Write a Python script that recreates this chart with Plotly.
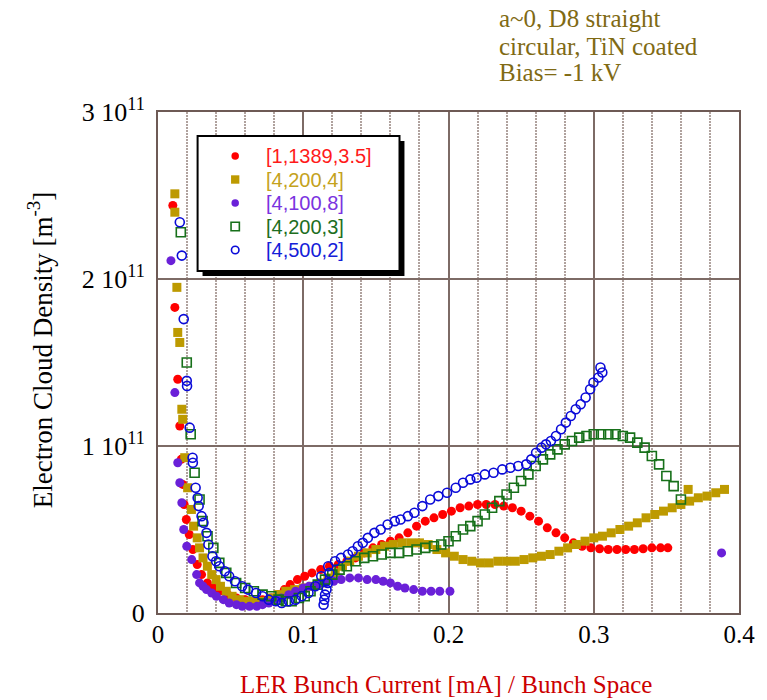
import numpy as np
import plotly.graph_objects as go

SCALE = 1e11

RED_X = [0.0102, 0.0116, 0.0136, 0.0150, 0.0160, 0.0170, 0.0180, 0.0195, 0.0215, 0.0240,
         0.0270, 0.0300, 0.0340, 0.0380, 0.0420, 0.0480, 0.0540, 0.0600, 0.0660, 0.0720,
         0.0780, 0.0830, 0.0870, 0.0910, 0.0960, 0.1010, 0.1060, 0.1120, 0.1180, 0.1240,
         0.1300, 0.1360, 0.1420, 0.1480, 0.1540, 0.1600, 0.1660, 0.1720, 0.1780, 0.1840,
         0.1900, 0.1960, 0.2020, 0.2080, 0.2140, 0.2200, 0.2260, 0.2320, 0.2380, 0.2440,
         0.2500, 0.2560, 0.2620, 0.2680, 0.2740, 0.2800, 0.2860, 0.2920, 0.2980, 0.3040,
         0.3100, 0.3160, 0.3220, 0.3280, 0.3340, 0.3400, 0.3460, 0.3510]
RED_Y = [2.44, 1.83, 1.40, 1.12, 0.92, 0.77, 0.65, 0.56, 0.47, 0.38,
         0.29, 0.23, 0.18, 0.15, 0.13, 0.11, 0.09, 0.08, 0.07, 0.08,
         0.09, 0.11, 0.14, 0.17, 0.20, 0.22, 0.24, 0.26, 0.28, 0.29,
         0.31, 0.33, 0.36, 0.39, 0.41, 0.43, 0.45, 0.48, 0.52, 0.55,
         0.57, 0.59, 0.61, 0.63, 0.64, 0.65, 0.65, 0.65, 0.64, 0.63,
         0.61, 0.58, 0.55, 0.51, 0.48, 0.45, 0.42, 0.40, 0.39, 0.385,
         0.38, 0.38, 0.38, 0.38, 0.385, 0.39, 0.39, 0.39]

GOLD_X = [0.0116, 0.0116, 0.0130, 0.0136, 0.0150, 0.0164, 0.0170, 0.0184, 0.0204, 0.0230,
          0.0245, 0.0270, 0.0286, 0.0310, 0.0340, 0.0370, 0.0400, 0.0430, 0.0470, 0.0510,
          0.0560, 0.0610, 0.0660, 0.0720, 0.0780, 0.0830, 0.0880, 0.0940, 0.1000, 0.1060,
          0.1120, 0.1170, 0.1220, 0.1270, 0.1320, 0.1380, 0.1440, 0.1500, 0.1560, 0.1620,
          0.1680, 0.1740, 0.1800, 0.1860, 0.1920, 0.1980, 0.2040, 0.2100, 0.2160, 0.2220,
          0.2280, 0.2340, 0.2400, 0.2460, 0.2520, 0.2580, 0.2640, 0.2700, 0.2760, 0.2820,
          0.2880, 0.2940, 0.3000, 0.3060, 0.3120, 0.3180, 0.3240, 0.3300, 0.3360, 0.3420,
          0.3480, 0.3540, 0.3600, 0.3660, 0.3720, 0.3780, 0.3840, 0.3900, 0.3650]
GOLD_Y = [2.51, 2.40, 1.95, 1.68, 1.62, 1.22, 1.16, 0.93, 0.75, 0.62,
          0.52, 0.45, 0.39, 0.33, 0.28, 0.23, 0.20, 0.16, 0.13, 0.10,
          0.08, 0.07, 0.07, 0.07, 0.09, 0.11, 0.13, 0.14, 0.15, 0.16,
          0.18, 0.21, 0.24, 0.28, 0.31, 0.34, 0.36, 0.38, 0.40, 0.41,
          0.42, 0.42, 0.42, 0.41, 0.38, 0.36, 0.34, 0.32, 0.31, 0.30,
          0.30, 0.31, 0.31, 0.31, 0.32, 0.33, 0.34, 0.35, 0.37, 0.39,
          0.41, 0.43, 0.45, 0.46, 0.48, 0.50, 0.52, 0.54, 0.57, 0.59,
          0.61, 0.63, 0.65, 0.67, 0.69, 0.70, 0.72, 0.74, 0.74]

PURPLE_X = [0.0089, 0.0116, 0.0136, 0.0150, 0.0164, 0.0177, 0.0198, 0.0232, 0.0266, 0.0286,
            0.0310, 0.0334, 0.0370, 0.0402, 0.0450, 0.0490, 0.0540, 0.0580, 0.0630, 0.0680,
            0.0720, 0.0763, 0.0810, 0.0850, 0.0900, 0.0947, 0.1000, 0.1040, 0.1100, 0.1153,
            0.1210, 0.1261, 0.1320, 0.1380, 0.1440, 0.1500, 0.1550, 0.1600, 0.1650, 0.1700,
            0.1760, 0.1820, 0.1880, 0.1940, 0.2010, 0.3880]
PURPLE_Y = [2.11, 1.32, 0.90, 0.78, 0.66, 0.50, 0.40, 0.32, 0.23, 0.18,
            0.16, 0.14, 0.12, 0.10, 0.08, 0.06, 0.05, 0.04, 0.04, 0.04,
            0.05, 0.06, 0.08, 0.09, 0.11, 0.13, 0.15, 0.16, 0.17, 0.18,
            0.19, 0.20, 0.21, 0.21, 0.20, 0.20, 0.19, 0.18, 0.16, 0.15,
            0.14, 0.13, 0.13, 0.13, 0.13, 0.36]

GREEN_X = [0.0157, 0.0198, 0.0225, 0.0252, 0.0286, 0.0307, 0.0341, 0.0381, 0.0422, 0.0470,
           0.0538, 0.0600, 0.0660, 0.0720, 0.0780, 0.0830, 0.0880, 0.0920, 0.0970, 0.1010,
           0.1050, 0.1100, 0.1150, 0.1200, 0.1250, 0.1300, 0.1360, 0.1420, 0.1480, 0.1540,
           0.1600, 0.1660, 0.1720, 0.1780, 0.1840, 0.1900, 0.1950, 0.2000, 0.2050, 0.2100,
           0.2150, 0.2200, 0.2250, 0.2300, 0.2350, 0.2400, 0.2450, 0.2500, 0.2550, 0.2600,
           0.2650, 0.2700, 0.2750, 0.2800, 0.2850, 0.2900, 0.2950, 0.3000, 0.3050, 0.3100,
           0.3150, 0.3200, 0.3250, 0.3300, 0.3350, 0.3400, 0.3450, 0.3500, 0.3550, 0.3600]
GREEN_Y = [2.28, 1.50, 1.07, 0.84, 0.68, 0.55, 0.46, 0.39, 0.30, 0.24,
           0.18, 0.15, 0.13, 0.11, 0.10, 0.08, 0.07, 0.07, 0.09, 0.10,
           0.13, 0.17, 0.20, 0.23, 0.26, 0.28, 0.31, 0.33, 0.34, 0.35,
           0.36, 0.36, 0.37, 0.38, 0.39, 0.40, 0.41, 0.43, 0.46, 0.50,
           0.52, 0.55, 0.59, 0.63, 0.67, 0.71, 0.75, 0.79, 0.83, 0.88,
           0.92, 0.95, 0.98, 1.01, 1.03, 1.05, 1.06, 1.07, 1.07, 1.07,
           1.07, 1.06, 1.05, 1.02, 0.99, 0.94, 0.89, 0.82, 0.76, 0.68]

BLUE_X = [0.0150, 0.0164, 0.0177, 0.0198, 0.0200, 0.0218, 0.0238, 0.0240, 0.0259, 0.0273,
          0.0280, 0.0300, 0.0313, 0.0334, 0.0347, 0.0375, 0.0400, 0.0422, 0.0460, 0.0490,
          0.0530, 0.0579, 0.0620, 0.0675, 0.0720, 0.0763, 0.0810, 0.0852, 0.0900, 0.0947,
          0.0990, 0.1036, 0.1083, 0.1124, 0.1172, 0.1219, 0.1260, 0.1308, 0.1340, 0.1376,
          0.1410, 0.1445, 0.1490, 0.1533, 0.1581, 0.1630, 0.1670, 0.1720, 0.1765, 0.1820,
          0.1874, 0.1930, 0.1990, 0.2050, 0.2100, 0.2150, 0.2194, 0.2250, 0.2310, 0.2370,
          0.2426, 0.2480, 0.2535, 0.2570, 0.2603, 0.2640, 0.2671, 0.2705, 0.2740, 0.2775,
          0.2808, 0.2842, 0.2876, 0.2910, 0.2944, 0.2975, 0.2998, 0.3032, 0.3046, 0.3059,
          0.1140, 0.1145, 0.1150, 0.1160, 0.1170, 0.1180]
BLUE_Y = [2.34, 2.14, 1.76, 1.39, 1.36, 1.11, 0.93, 0.90, 0.75, 0.69,
          0.64, 0.58, 0.54, 0.48, 0.41, 0.34, 0.31, 0.28, 0.25, 0.22,
          0.19, 0.16, 0.14, 0.12, 0.10, 0.08, 0.07, 0.06, 0.07, 0.08,
          0.10, 0.12, 0.16, 0.22, 0.28, 0.31, 0.33, 0.35, 0.37, 0.40,
          0.42, 0.45, 0.48, 0.50, 0.53, 0.55, 0.56, 0.58, 0.60, 0.64,
          0.68, 0.70, 0.72, 0.75, 0.78, 0.80, 0.81, 0.83, 0.84, 0.86,
          0.87, 0.88, 0.89, 0.92, 0.96, 0.99, 1.01, 1.03, 1.06, 1.10,
          1.14, 1.18, 1.22, 1.25, 1.29, 1.34, 1.38, 1.41, 1.47, 1.44,
          0.05, 0.08, 0.11, 0.14, 0.18, 0.24]

SERIES_NAMES = ["[1,1389,3.5]", "[4,200,4]", "[4,100,8]", "[4,200,3]", "[4,500,2]"]
Y_TICK_VALUES = [0, 1, 2, 3]
Y_TICK_LABELS = ["0", "1 10<sup>11</sup>", "2 10<sup>11</sup>", "3 10<sup>11</sup>"]
X_TICK_VALUES = [0, 0.1, 0.2, 0.3, 0.4]
X_TICK_LABELS = ["0", "0.1", "0.2", "0.3", "0.4"]
NOTE_LINES = ["a~0, D8 straight", "circular, TiN coated", "Bias= -1 kV"]

serif = "Liberation Serif, Times New Roman, serif"
sans = "Liberation Sans, Arial, sans-serif"

marker_colors = ["#ff0000", "#bd9a00", "#6a20d8", "#17701a", "#0a0ad8"]
text_colors = ["#ff1a1a", "#c4a21c", "#7a33e0", "#1d6e21", "#1420d8"]
symbols = ["circle", "square", "circle", "square-open", "circle-open"]
sizes = [9, 9, 9, 9, 9]

data_x = [RED_X, GOLD_X, PURPLE_X, GREEN_X, BLUE_X]
data_y = [RED_Y, GOLD_Y, PURPLE_Y, GREEN_Y, BLUE_Y]

fig = go.Figure()
for xs, ys, name, col, sym, sz in zip(data_x, data_y, SERIES_NAMES, marker_colors, symbols, sizes):
    mk = dict(color=col, symbol=sym, size=sz)
    if sym.endswith("open"):
        mk["line"] = dict(width=1.6, color=col)
    fig.add_trace(go.Scatter(x=xs, y=np.array(ys) * SCALE, mode="markers",
                             name=name, marker=mk, showlegend=False))

W, H = 767, 700
L, R, T, B = 158, 22, 112, 87
pw, ph = W - L - R, H - T - B

def px(xp):
    return (xp - L) / pw

def py(yp):
    return (H - B - yp) / ph

axis_col = "#6e5a55"
major_grid = "#7d6b66"
minor_grid = "#b0a29e"

# legend drawn as a framed box with shadow
LEG_L, LEG_R, LEG_T, LEG_B = 198, 402, 136, 271
ROW_Y = [156, 179.5, 203, 226.5, 250]
SYM_X, TEXT_X = 236, 265
shapes = [
    dict(type="rect", xref="paper", yref="paper",
         x0=px(LEG_L + 5), x1=px(LEG_R + 5), y0=py(LEG_B + 5), y1=py(LEG_T + 5),
         fillcolor="black", line=dict(width=0), layer="above"),
    dict(type="rect", xref="paper", yref="paper",
         x0=px(LEG_L), x1=px(LEG_R), y0=py(LEG_B), y1=py(LEG_T),
         fillcolor="white", line=dict(width=2, color="black"), layer="above"),
]
annotations = []
for ry, col, tcol, sym, name in zip(ROW_Y, marker_colors, text_colors, symbols, SERIES_NAMES):
    r = 3.8 if sym.startswith("circle") else 4.2
    stype = "circle" if sym.startswith("circle") else "rect"
    if sym.endswith("open"):
        shapes.append(dict(type=stype, xref="paper", yref="paper",
                           x0=px(SYM_X - r), x1=px(SYM_X + r), y0=py(ry + r), y1=py(ry - r),
                           fillcolor="white", line=dict(width=1.6, color=col), layer="above"))
    else:
        shapes.append(dict(type=stype, xref="paper", yref="paper",
                           x0=px(SYM_X - r), x1=px(SYM_X + r), y0=py(ry + r), y1=py(ry - r),
                           fillcolor=col, line=dict(width=0), layer="above"))
    annotations.append(dict(text=name, xref="paper", yref="paper", x=px(TEXT_X), y=py(ry),
                            xanchor="left", yanchor="middle", showarrow=False,
                            font=dict(family=sans, size=20, color=tcol)))

annotations += [
    dict(text="Electron Cloud Density [m<sup>-3</sup>]", xref="paper", yref="paper",
         x=px(39), y=py(350), xanchor="center", yanchor="middle", textangle=-90, showarrow=False,
         font=dict(family=serif, size=27, color="black")),
    dict(text="LER Bunch Current [mA] / Bunch Space", xref="paper", yref="paper",
         x=px(449), y=py(684), xanchor="center", yanchor="middle", showarrow=False,
         font=dict(family=serif, size=25, color="#cc0000")),
]
for line, ly in zip(NOTE_LINES, [19, 46, 73]):
    annotations.append(dict(text=line, xref="paper", yref="paper", x=px(501), y=py(ly),
                            xanchor="left", yanchor="middle", showarrow=False,
                            font=dict(family=serif, size=25, color="#806a14")))

fig.update_layout(
    width=W, height=H,
    margin=dict(l=L, r=R, t=T, b=B),
    paper_bgcolor="white", plot_bgcolor="white",
    showlegend=False,
    xaxis=dict(
        range=[0, 0.4], tickvals=X_TICK_VALUES, ticktext=X_TICK_LABELS,
        showline=True, linecolor=axis_col, linewidth=2, mirror=True,
        showgrid=True, gridcolor=major_grid, gridwidth=1.5,
        zeroline=False, ticks="", ticklabelstandoff=-2,
        tickfont=dict(family=serif, size=25, color="black"),
        minor=dict(dtick=0.02, showgrid=True, gridcolor=minor_grid, griddash="2px,1px",
                   gridwidth=2, ticks=""),
    ),
    yaxis=dict(
        range=[0, 3 * SCALE], tickvals=[v * SCALE for v in Y_TICK_VALUES], ticktext=Y_TICK_LABELS,
        showline=True, linecolor=axis_col, linewidth=2, mirror=True,
        showgrid=True, gridcolor=major_grid, gridwidth=1.5,
        zeroline=False, ticks="", ticklabelstandoff=6,
        tickfont=dict(family=serif, size=26, color="black"),
    ),
    shapes=shapes,
    annotations=annotations,
)

fig.write_html("out.html")
